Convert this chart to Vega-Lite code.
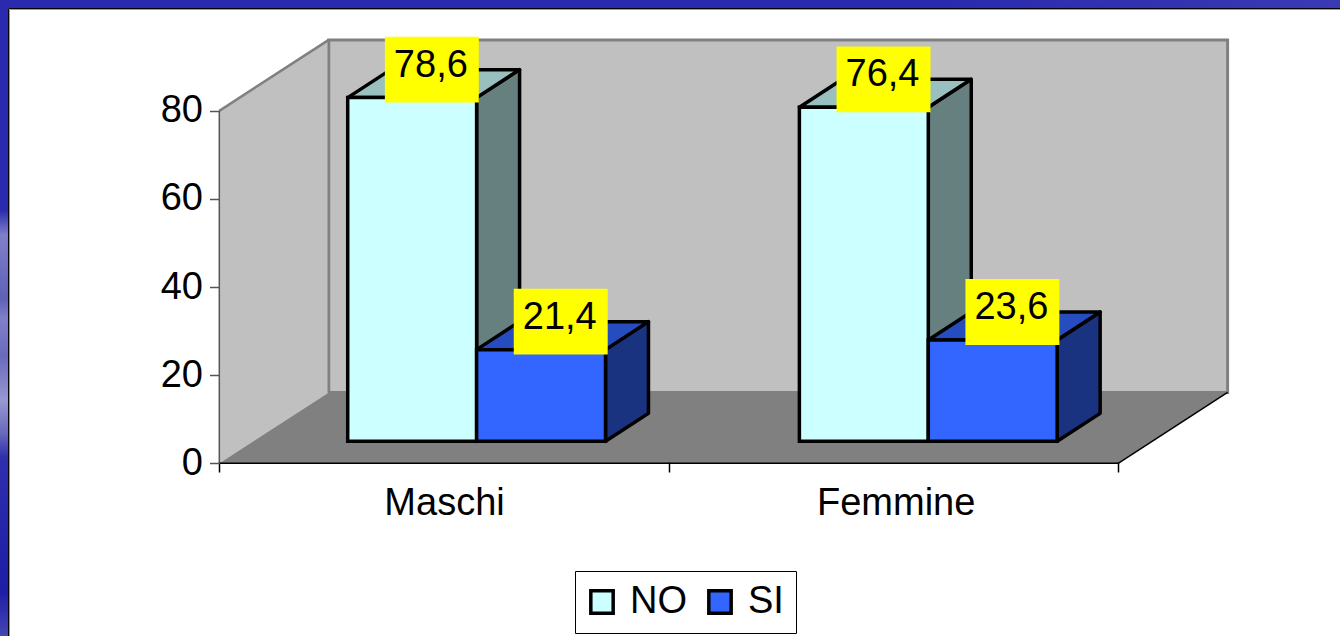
{
"$schema":"https://vega.github.io/schema/vega-lite/v6.json",
"width":1341,"height":637,"padding":0,
"autosize":{"type":"fit","contains":"padding"},
"background":"#ffffff",
"config":{"view":{"stroke":null},"font":"Liberation Sans"},
"datasets":{"bars":[
{"sex":"Maschi","series":"NO","value":78.6},
{"sex":"Maschi","series":"SI","value":21.4},
{"sex":"Femmine","series":"NO","value":76.4},
{"sex":"Femmine","series":"SI","value":23.6}
]},
"layer":[
{"data":{"values":[{"a":0.2435,"b":2.2435,"c":16.09,"d":96.1}]},
 "mark":{"type":"rect","fill":"#C0C0C0","stroke":"#808080","strokeWidth":3},
 "encoding":{
  "x":{"field":"a","type":"quantitative","title":null,"scale":{"domain":[-0.488,2.4936],"nice":false,"zero":false},
    "axis":{"values":[0,0.5,1,1.505,2],"offset":-174,"grid":false,"domain":false,"tickColor":"#000000","tickSize":10,"tickWidth":1.5,
      "tickOpacity":{"condition":{"test":"datum.value==0.5||datum.value==1.505","value":0},"value":1},
      "labelExpr":"datum.value==0.5?'Maschi':datum.value==1.505?'Femmine':''","labelFontSize":38,"labelColor":"#000000","labelPadding":12,"labelFlush":false,"labelOverlap":false,"labelBound":false,"zindex":1}},
  "x2":{"field":"b"},
  "y":{"field":"c","type":"quantitative","title":null,"scale":{"domain":[-39.2,105.157],"nice":false,"zero":false},
    "axis":{"values":[0,20,40,60,80],"offset":-219.5,"grid":false,"domain":false,"tickColor":"#555555","tickSize":10,"tickWidth":1.5,"labelFontSize":38,"labelColor":"#000000","labelPadding":7,"labelFlush":false,"labelOverlap":false,"labelBound":false,"zindex":1}},
  "y2":{"field":"d"}}},
{"data":{"values":[{"x":0,"t":80,"b":0},{"x":0.2435,"t":96.1,"b":16.09}]},
 "mark":{"type":"area","fill":"#C0C0C0","orient":"vertical"},
 "encoding":{"x":{"field":"x","type":"quantitative","title":null},"y":{"field":"t","type":"quantitative","title":null,"stack":null},"y2":{"field":"b"}}},
{"data":{"values":[{"y":0,"l":0,"r":2},{"y":16.09,"l":0.2435,"r":2.2435}]},
 "mark":{"type":"area","fill":"#808080","orient":"horizontal"},
 "encoding":{"y":{"field":"y","type":"quantitative","title":null},"x":{"field":"l","type":"quantitative","title":null,"stack":null},"x2":{"field":"r"}}},
{"data":{"values":[{"k":"wallTop","x":0,"x2":0.2435,"y":80,"y2":96.1},{"k":"wallBack","x":0.2435,"x2":0.2435,"y":16.09,"y2":96.1}]},
 "mark":{"type":"rule","color":"#808080","strokeWidth":2.5},
 "encoding":{"x":{"field":"x","type":"quantitative","title":null},"x2":{"field":"x2"},"y":{"field":"y","type":"quantitative","title":null},"y2":{"field":"y2"}}},
{"data":{"values":[{"x":2,"x2":2.2435,"y":0,"y2":16.09},{"x":0,"x2":2,"y":0,"y2":0}]},
 "mark":{"type":"rule","color":"#000000","strokeWidth":1.5},
 "encoding":{"x":{"field":"x","type":"quantitative","title":null},"x2":{"field":"x2"},"y":{"field":"y","type":"quantitative","title":null},"y2":{"field":"y2"}}},
{"data":{"values":[{"x":0,"y":0,"y2":80}]},
 "mark":{"type":"rule","color":"#555555","strokeWidth":1.5},
 "encoding":{"x":{"field":"x","type":"quantitative","title":null},"y":{"field":"y","type":"quantitative","title":null},"y2":{"field":"y2"}}},
{"data":{"name":"bars"},
 "transform":[
  {"calculate":"(datum.sex=='Maschi'?0:1.005)+0.2857+(datum.series=='NO'?0:0.2868)","as":"xl"},
  {"calculate":"datum.xl+0.2868","as":"xr"},
  {"calculate":"4.4+datum.value","as":"yt"},
  {"calculate":"[datum.xr,datum.xr+0.0956]","as":"sx"},
  {"calculate":"[datum.yt,datum.yt+6.35]","as":"st"},
  {"calculate":"[4.986,4.986+6.35]","as":"sb"},
  {"flatten":["sx","st","sb"]},
  {"calculate":"datum.sex+datum.series","as":"key"}],
 "mark":{"type":"area","orient":"vertical","stroke":"#000000","strokeWidth":3.5,"strokeJoin":"round"},
 "encoding":{"x":{"field":"sx","type":"quantitative","title":null},"y":{"field":"st","type":"quantitative","title":null,"stack":null},"y2":{"field":"sb"},"detail":{"field":"key"},
  "fill":{"condition":{"test":"datum.series=='NO'","value":"#668080"},"value":"#1A3380"}}},
{"data":{"name":"bars"},
 "transform":[
  {"calculate":"(datum.sex=='Maschi'?0:1.005)+0.2857+(datum.series=='NO'?0:0.2868)","as":"xl"},
  {"calculate":"datum.xl+0.2868","as":"xr"},
  {"calculate":"4.4+datum.value","as":"yt"},
  {"calculate":"[datum.yt,datum.yt+6.35]","as":"ty"},
  {"calculate":"[datum.xl,datum.xl+0.0956]","as":"tl"},
  {"calculate":"[datum.xr,datum.xr+0.0956]","as":"tr"},
  {"flatten":["ty","tl","tr"]},
  {"calculate":"datum.sex+datum.series","as":"key"}],
 "mark":{"type":"area","orient":"horizontal","stroke":"#000000","strokeWidth":3.5,"strokeJoin":"round"},
 "encoding":{"y":{"field":"ty","type":"quantitative","title":null},"x":{"field":"tl","type":"quantitative","title":null,"stack":null},"x2":{"field":"tr"},"detail":{"field":"key"},
  "fill":{"condition":{"test":"datum.series=='NO'","value":"#99BFBF"},"value":"#264DBF"}}},
{"data":{"name":"bars"},
 "transform":[
  {"calculate":"(datum.sex=='Maschi'?0:1.005)+0.2857+(datum.series=='NO'?0:0.2868)","as":"xl"},
  {"calculate":"datum.xl+0.2868","as":"xr"},
  {"calculate":"4.4+datum.value","as":"yt"},
  {"calculate":"4.986","as":"yb"}],
 "mark":{"type":"rect","stroke":"#000000","strokeWidth":3.5},
 "encoding":{"x":{"field":"xl","type":"quantitative","title":null},"x2":{"field":"xr"},"y":{"field":"yb","type":"quantitative","title":null},"y2":{"field":"yt"},
  "fill":{"field":"series","type":"nominal","scale":{"domain":["NO","SI"],"range":["#CCFFFF","#3366FF"]},
   "legend":{"title":null,"orient":"none","legendX":575,"legendY":571,"direction":"horizontal","fillColor":"#ffffff","strokeColor":"#000000","padding":12,"symbolType":"square","symbolSize":500,"symbolStrokeColor":"#000000","symbolStrokeWidth":3.5,"symbolOpacity":1,"symbolOffset":-4,"labelFontSize":38,"labelColor":"#000000","labelOffset":9,"columnPadding":14}}}},
{"data":{"name":"bars"},
 "transform":[
  {"calculate":"(datum.sex=='Maschi'?0:1.005)+0.2857+(datum.series=='NO'?0:0.2868)+0.1434+0.0478-0.004","as":"cx"},
  {"calculate":"4.4+datum.value+6.35","as":"cy"},
  {"calculate":"datum.cx-0.1045","as":"x1"},{"calculate":"datum.cx+0.1045","as":"x2"},
  {"calculate":"datum.cy-7.48","as":"y1"},{"calculate":"datum.cy+7.48","as":"y2"}],
 "mark":{"type":"rect","fill":"#FFFF00"},
 "encoding":{"x":{"field":"x1","type":"quantitative","title":null},"x2":{"field":"x2"},"y":{"field":"y1","type":"quantitative","title":null},"y2":{"field":"y2"}}},
{"data":{"name":"bars"},
 "transform":[
  {"calculate":"(datum.sex=='Maschi'?0:1.005)+0.2857+(datum.series=='NO'?0:0.2868)+0.1434+0.0478-0.004","as":"cx"},
  {"calculate":"4.4+datum.value+6.35","as":"cy"},
  {"calculate":"replace(format(datum.value,'.1f'),'.',',')","as":"label"}],
 "mark":{"type":"text","fontSize":38,"color":"#000000","align":"center","baseline":"middle","dy":-4,"dx":-1},
 "encoding":{"x":{"field":"cx","type":"quantitative","title":null},"y":{"field":"cy","type":"quantitative","title":null},"text":{"field":"label"}}},
{"data":{"values":[{"x":-0.488,"x2":2.4936,"y":103.344,"y2":105.157}]},
 "mark":{"type":"rect","fill":{"gradient":"linear","x1":0,"y1":0,"x2":1,"y2":0,"stops":[{"offset":0,"color":"#2A2AAE"},{"offset":0.7,"color":"#2A2AAE"},{"offset":1,"color":"#3A3AB4"}]}},
 "encoding":{"x":{"field":"x","type":"quantitative","title":null},"x2":{"field":"x2"},"y":{"field":"y","type":"quantitative","title":null},"y2":{"field":"y2"}}},
{"data":{"values":[{"x":-0.488,"x2":-0.4702,"y":-39.2,"y2":105.157}]},
 "mark":{"type":"rect","fill":{"gradient":"linear","x1":0,"y1":0,"x2":0,"y2":1,"stops":[{"offset":0,"color":"#2A2AAE"},{"offset":0.33,"color":"#2A2AAE"},{"offset":0.37,"color":"#8080C8"},{"offset":0.42,"color":"#7070C0"},{"offset":0.47,"color":"#6060B8"},{"offset":0.5,"color":"#8080C8"},{"offset":0.56,"color":"#6A6ABC"},{"offset":0.63,"color":"#9898D4"},{"offset":0.68,"color":"#6A6ABC"},{"offset":0.72,"color":"#2E2EAE"},{"offset":0.93,"color":"#1E1EA6"},{"offset":1,"color":"#4545B4"}]}},
 "encoding":{"x":{"field":"x","type":"quantitative","title":null},"x2":{"field":"x2"},"y":{"field":"y","type":"quantitative","title":null},"y2":{"field":"y2"}}},
{"data":{"values":[{"x":-0.4691,"x2":2.4936,"y":103.23,"c":"a"},{"x":-0.4669,"x2":2.4936,"y":103.0,"c":"b"}]},
 "mark":{"type":"rule","strokeWidth":1},
 "encoding":{"x":{"field":"x","type":"quantitative","title":null},"x2":{"field":"x2"},"y":{"field":"y","type":"quantitative","title":null},
  "color":{"condition":{"test":"datum.c=='a'","value":"#000000"},"value":"#999999"}}},
{"data":{"values":[{"x":-0.4691,"y":-39.2,"y2":103.23,"c":"a"},{"x":-0.4669,"y":-39.2,"y2":103.0,"c":"b"}]},
 "mark":{"type":"rule","strokeWidth":1},
 "encoding":{"x":{"field":"x","type":"quantitative","title":null},"y":{"field":"y","type":"quantitative","title":null},"y2":{"field":"y2"},
  "color":{"condition":{"test":"datum.c=='a'","value":"#000000"},"value":"#999999"}}}
]
}
